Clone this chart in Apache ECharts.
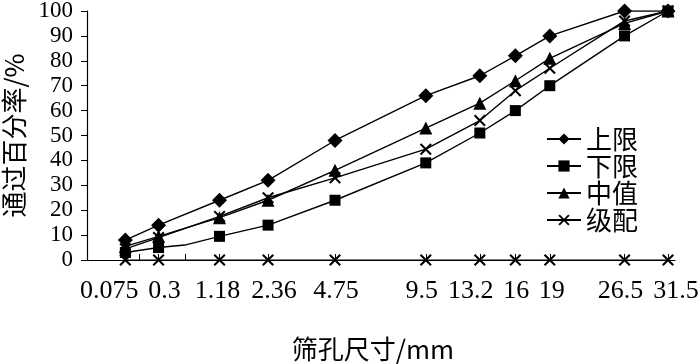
<!DOCTYPE html>
<html><head><meta charset="utf-8">
<script src="https://cdn.jsdelivr.net/npm/echarts@6/dist/echarts.min.js"></script>
<style>html,body{margin:0;padding:0;background:#fff}#c{width:700px;height:364px}</style>
</head><body><div id="c"></div>
<script>
// sieve sizes (mm)
var allSieves = [0.075, 0.15, 0.3, 0.6, 1.18, 2.36, 4.75, 9.5, 13.2, 16, 19, 26.5, 31.5];
var labelSieves = [0.075, 0.3, 1.18, 2.36, 4.75, 9.5, 13.2, 16, 19, 26.5, 31.5];
var tickLabels = ['0.075', '0.3', '1.18', '2.36', '4.75', '9.5', '13.2', '16', '19', '26.5', '31.5'];
// passing percentages (%) at labelSieves
var upper = [8, 14, 24, 32, 48, 66, 74, 82, 90, 100, 100];
var lowerSieves = [0.075, 0.3, 0.6, 1.18, 2.36, 4.75, 9.5, 13.2, 16, 19, 26.5, 31.5];
var lower = [3, 5, 6, 9.5, 14, 24, 39, 51, 60, 70, 90, 100];
var middle = [5.5, 9.5, 17, 24, 36, 53, 63, 72, 81, 95, 100];
var grading = [4.5, 9, 17.5, 25, 33, 44.5, 56, 68, 77, 96, 100];
var baseline = [0, 0, 0, 0, 0, 0, 0, 0, 0, 0, 0];

// gradation chart x scale: d^0.45
function sx(d) { return Math.pow(d, 0.45); }
function pts(sieves, vals, hidden) {
  return sieves.map(function (d, i) {
    var it = { value: [sx(d), vals[i]] };
    if (hidden && hidden.indexOf(d) >= 0) { it.symbol = 'none'; }
    return it;
  });
}

// horizontal nudges of tick label text (px), styling only
var labelNudge = [-16, 6, -2, 6, 1, -4, -9, 1, 2, -4, 8];
var serif = 'Liberation Serif';
var cjk = '"Noto Sans CJK SC"';
var rich = {};
var labelMap = {};
labelSieves.forEach(function (d, i) {
  var n = labelNudge[i];
  rich['s' + i] = {
    fontFamily: serif, fontSize: 26, color: '#000',
    padding: n < 0 ? [0, -2 * n, 0, 0] : [0, 0, 0, 2 * n]
  };
  labelMap[sx(d).toFixed(5)] = '{s' + i + '|' + tickLabels[i] + '}';
});

var XPATH = 'path://M0,1.2L1.2,0L5,3.8L8.8,0L10,1.2L6.2,5L10,8.8L8.8,10L5,6.2L1.2,10L0,8.8L3.8,5Z';

function lineSeries(name, data, symbol, size) {
  return {
    name: name, type: 'line', data: data, symbol: symbol, symbolSize: size,
    showAllSymbol: true,
    lineStyle: { color: '#000', width: 1.4 },
    itemStyle: { color: '#000' },
    emphasis: { disabled: true }, z: 3
  };
}

var chart = echarts.init(document.getElementById('c'), null, { renderer: 'canvas' });
chart.setOption({
  animation: false,
  backgroundColor: '#fff',
  grid: { left: 87, right: 25, top: 11, bottom: 104, containLabel: false, outerBoundsMode: 'none' },
  legend: {
    orient: 'vertical', left: 541, top: 121, itemWidth: 34, itemHeight: 14, itemGap: 1,
    textStyle: { fontFamily: cjk, fontSize: 26, color: '#000' },
    data: ['上限', '下限', '中值', '级配']
  },
  xAxis: {
    type: 'value', min: 0, max: 4.78,
    name: '筛孔尺寸/mm', nameLocation: 'middle', nameGap: 76,
    nameTextStyle: { fontFamily: cjk, fontSize: 26, color: '#000', padding: [0, 16, 0, 0] },
    axisLine: { show: true, lineStyle: { color: '#000', width: 1.2 } },
    axisTick: { show: true, inside: true, length: 6, lineStyle: { color: '#000' }, customValues: allSieves.map(sx) },
    axisLabel: {
      customValues: labelSieves.map(sx), color: '#000', fontFamily: serif, fontSize: 26, margin: 18,
      hideOverlap: false, showMinLabel: true, showMaxLabel: true, rich: rich,
      formatter: function (v) { return labelMap[v.toFixed(5)] || ''; }
    },
    splitLine: { show: false }
  },
  yAxis: {
    type: 'value', min: 0, max: 100, interval: 10,
    name: '通过百分率/%', nameLocation: 'middle', nameGap: 36, nameRotate: 90,
    nameTextStyle: { fontFamily: cjk, fontSize: 26, color: '#000' },
    axisLine: { show: true, lineStyle: { color: '#000', width: 1.2 } },
    axisTick: { show: true, inside: false, length: 6, lineStyle: { color: '#000' } },
    axisLabel: { color: '#000', fontFamily: serif, fontSize: 23, margin: 14 },
    splitLine: { show: false }
  },
  series: [
    lineSeries('上限', pts(labelSieves, upper), 'diamond', 15),
    lineSeries('下限', pts(lowerSieves, lower, [0.6]), 'rect', 11),
    lineSeries('中值', pts(labelSieves, middle), 'triangle', 13),
    lineSeries('级配', pts(labelSieves, grading), XPATH, 12),
    {
      name: 'base', type: 'line', data: pts(labelSieves, baseline), symbol: XPATH, symbolSize: 12,
      lineStyle: { color: '#000', width: 1.2 }, itemStyle: { color: '#000' }, z: 3
    }
  ]
});
</script></body></html>
